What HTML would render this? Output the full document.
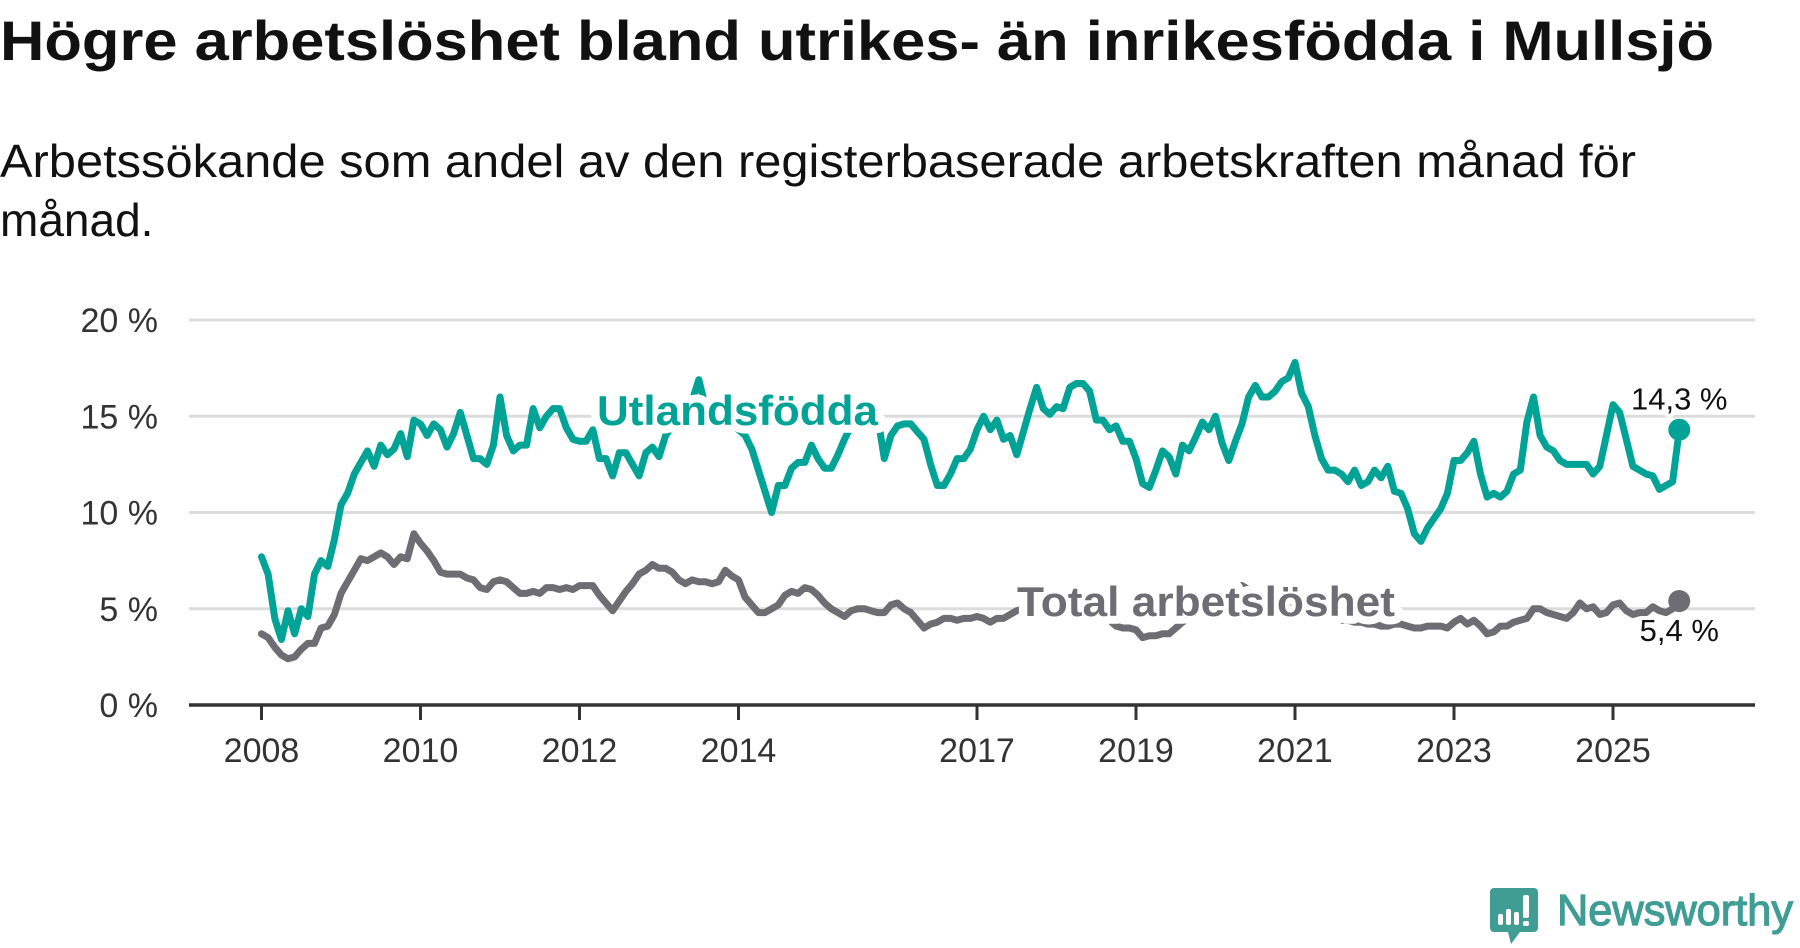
<!DOCTYPE html>
<html><head><meta charset="utf-8">
<style>
html,body{margin:0;padding:0;background:#fff;}
svg{display:block;}
text{font-family:"Liberation Sans","DejaVu Sans",sans-serif;}
</style></head>
<body>
<svg id="chart" width="1800" height="948" viewBox="0 0 1800 948" xmlns="http://www.w3.org/2000/svg">
  <text x="0" y="60" font-size="56" font-weight="bold" fill="#111" textLength="1714" lengthAdjust="spacingAndGlyphs">Högre arbetslöshet bland utrikes- än inrikesfödda i Mullsjö</text>
  <text x="0" y="177" font-size="46" fill="#111" textLength="1636" lengthAdjust="spacingAndGlyphs">Arbetssökande som andel av den registerbaserade arbetskraften månad för</text>
  <text x="0" y="236" font-size="46" fill="#111">månad.</text>
  <g id="grid"></g>
  <g id="yaxis"></g>
  <g id="xaxis"></g>
  <g id="series"></g>
  <g id="labels"></g>
  <g>
    <path d="M1494 888 h40 a4 4 0 0 1 4 4 v36 a4 4 0 0 1 -4 4 h-14 l-9 12 l-3 -12 h-14 a4 4 0 0 1 -4 -4 v-36 a4 4 0 0 1 4 -4z" fill="#3f9d94"/>
    <rect x="1498" y="914" width="5" height="11" rx="2" fill="#fff"/>
    <rect x="1506" y="909" width="5" height="16" rx="2" fill="#fff"/>
    <rect x="1514" y="912" width="5" height="13" rx="2" fill="#fff"/>
    <rect x="1523" y="895" width="6" height="23" rx="2" fill="#fff"/>
    <rect x="1523" y="921" width="6" height="5" rx="2" fill="#fff"/>
    <text x="1557" y="925" font-size="44" fill="#3f9d94" stroke="#3f9d94" stroke-width="1.2" textLength="236" lengthAdjust="spacingAndGlyphs">Newsworthy</text>
  </g>
</svg>
<script>
const yTicks = [0, 5, 10, 15, 20];
const yTickLabels = ["0 %", "5 %", "10 %", "15 %", "20 %"];
const xTickYears = [2008, 2010, 2012, 2014, 2017, 2019, 2021, 2023, 2025];
const startYear = 2008;
const foreignBorn = [
7.7,6.8,4.5,3.4,4.9,3.7,5.0,4.6,6.8,7.5,7.2,8.6,
10.4,11.0,12.0,12.6,13.2,12.4,13.5,13.0,13.3,14.1,12.9,14.8,
14.6,14.0,14.6,14.3,13.4,14.1,15.2,14.0,12.8,12.8,12.5,13.5,
16.0,14.0,13.2,13.5,13.5,15.4,14.4,15.0,15.4,15.4,14.4,13.8,
13.7,13.7,14.3,12.8,12.8,11.9,13.1,13.1,12.5,11.9,13.1,13.4,
12.9,14.0,14.5,15.0,15.5,15.8,16.9,15.5,15.0,14.8,14.5,14.5,
14.3,14.0,13.3,12.2,11.1,10.0,11.4,11.4,12.3,12.6,12.6,13.5,
12.8,12.3,12.3,13.0,13.8,14.5,15.0,15.2,15.0,15.0,12.8,14.0,
14.5,14.6,14.6,14.2,13.8,12.5,11.4,11.4,12.0,12.8,12.8,13.3,
14.3,15.0,14.3,14.8,13.8,14.0,13.0,14.2,15.4,16.5,15.4,15.1,
15.5,15.4,16.5,16.7,16.7,16.3,14.8,14.8,14.3,14.5,13.7,13.7,
12.8,11.5,11.3,12.2,13.2,12.9,12.0,13.5,13.2,13.9,14.7,14.3,
15.0,13.6,12.7,13.7,14.6,16.0,16.6,16.0,16.0,16.3,16.8,17.0,
17.8,16.2,15.5,14.0,12.8,12.2,12.2,12.0,11.6,12.2,11.4,11.6,
12.2,11.8,12.4,11.1,11.0,10.2,8.9,8.5,9.2,9.7,10.2,11.0,
12.7,12.7,13.1,13.7,12.0,10.8,11.0,10.8,11.1,12.0,12.2,14.7,
16.0,14.0,13.4,13.2,12.7,12.5,12.5,12.5,12.5,12.0,12.4,14.0,
15.6,15.2,13.8,12.4,12.2,12.0,11.9,11.2,11.4,11.6,14.3
];
const totalRate = [
3.7,3.5,3.0,2.6,2.4,2.5,2.9,3.2,3.2,4.0,4.1,4.7,
5.8,6.4,7.0,7.6,7.5,7.7,7.9,7.7,7.3,7.7,7.6,8.9,
8.4,8.0,7.5,6.9,6.8,6.8,6.8,6.6,6.5,6.1,6.0,6.4,
6.5,6.4,6.1,5.8,5.8,5.9,5.8,6.1,6.1,6.0,6.1,6.0,
6.2,6.2,6.2,5.7,5.3,4.9,5.4,5.9,6.3,6.8,7.0,7.3,
7.1,7.1,6.9,6.5,6.3,6.5,6.4,6.4,6.3,6.4,7.0,6.7,
6.5,5.6,5.2,4.8,4.8,5.0,5.2,5.7,5.9,5.8,6.1,6.0,
5.7,5.3,5.0,4.8,4.6,4.9,5.0,5.0,4.9,4.8,4.8,5.2,
5.3,5.0,4.8,4.4,4.0,4.2,4.3,4.5,4.5,4.4,4.5,4.5,
4.6,4.5,4.3,4.5,4.5,4.7,4.9,5.0,5.0,5.0,5.0,5.0,
5.0,5.0,5.0,4.9,4.8,4.7,4.6,4.5,4.4,4.1,4.0,4.0,
3.9,3.5,3.6,3.6,3.7,3.7,4.0,4.3,4.5,4.6,4.7,4.8,
5.2,5.5,5.8,6.0,6.2,6.0,5.9,5.7,5.6,5.4,5.3,5.2,
5.1,5.0,4.9,4.8,4.7,4.6,4.5,4.4,4.4,4.3,4.3,4.2,
4.2,4.1,4.1,4.2,4.2,4.1,4.0,4.0,4.1,4.1,4.1,4.0,
4.3,4.5,4.2,4.4,4.1,3.7,3.8,4.1,4.1,4.3,4.4,4.5,
5.0,5.0,4.8,4.7,4.6,4.5,4.8,5.3,5.0,5.1,4.7,4.8,
5.2,5.3,4.9,4.7,4.8,4.8,5.1,4.9,4.8,5.0,5.4
];
const seriesNames = ["Utlandsfödda", "Total arbetslöshet"];

const NS = "http://www.w3.org/2000/svg";
const plotL = 189, plotR = 1755, y0 = 705, y20 = 320;
const x2008 = 261.5, pxPerYear = 79.5;
function yScale(v){ return y0 - (v/20)*(y0-y20); }
function xScale(monthIndex){ return x2008 + (monthIndex/12)*pxPerYear; }
function mk(tag, attrs, parent){ const e=document.createElementNS(NS,tag); for(const k in attrs) e.setAttribute(k,attrs[k]); parent.appendChild(e); return e; }

const grid=document.getElementById('grid'), yaxis=document.getElementById('yaxis'), xaxis=document.getElementById('xaxis');
yTicks.forEach((t,i)=>{
  if(t>0){
    const g=mk('line',{x1:plotL,x2:plotR,y1:yScale(t),y2:yScale(t),stroke:'#dcdcdc','stroke-width':3},grid);
    
    
  }
  const lb=mk('text',{x:158,y:yScale(t)+12,'text-anchor':'end','font-size':34,fill:'#333'},yaxis);
  lb.textContent=yTickLabels[i];
  
  
});
const ax=mk('line',{x1:plotL,x2:plotR,y1:y0,y2:y0,stroke:'#333','stroke-width':3.5},xaxis);


xTickYears.forEach(yr=>{
  const x=xScale((yr-startYear)*12);
  const tk=mk('line',{x1:x,x2:x,y1:y0,y2:720,stroke:'#333','stroke-width':3},xaxis);
  
  
  const lb=mk('text',{x:x,y:762,'text-anchor':'middle','font-size':34,fill:'#333'},xaxis);
  lb.textContent=String(yr);
  
  
});

const series=document.getElementById('series');
function drawLine(vals,color,name){
  const d=vals.map((v,i)=>(i?'L':'M')+xScale(i).toFixed(1)+' '+yScale(v).toFixed(1)).join(' ');
  const p=mk('path',{d:d,fill:'none',stroke:color,'stroke-width':7,'stroke-linejoin':'round','stroke-linecap':'round'},series);
  
  
  const n=vals.length-1;
  const c=mk('circle',{cx:xScale(n),cy:yScale(vals[n]),r:11,fill:color},series);
  
  
}
drawLine(totalRate,'#6e6d73','total');
drawLine(foreignBorn,'#00a396','foreign-born');

const labels=document.getElementById('labels');
function lbl(txt,x,y,size,color,bold,name,anchor,len){
  const t=mk('text',{x:x,y:y,'font-size':size,fill:color,'font-weight':bold?'bold':'normal',stroke:'#fff','stroke-width':bold?16:8,'paint-order':'stroke','stroke-linejoin':'round','text-anchor':anchor||'start'},labels);
  if(len){ t.setAttribute('textLength',len); t.setAttribute('lengthAdjust','spacingAndGlyphs'); }
  t.textContent=txt;
  
  
}
lbl(seriesNames[0],597,425,42,'#00a396',true,'foreign-born-label','start',281);
lbl(seriesNames[1],1017,616,42,'#6e6d73',true,'total-label','start',378);
const nF=foreignBorn.length-1, nT=totalRate.length-1;
lbl(foreignBorn[nF].toFixed(1).replace('.',',')+' %',xScale(nF),yScale(foreignBorn[nF])-20,31,'#111',false,'foreign-born-value-label','middle');
lbl(totalRate[nT].toFixed(1).replace('.',',')+' %',xScale(nT),yScale(totalRate[nT])+40,31,'#111',false,'total-value-label','middle');
</script>
</body></html>
